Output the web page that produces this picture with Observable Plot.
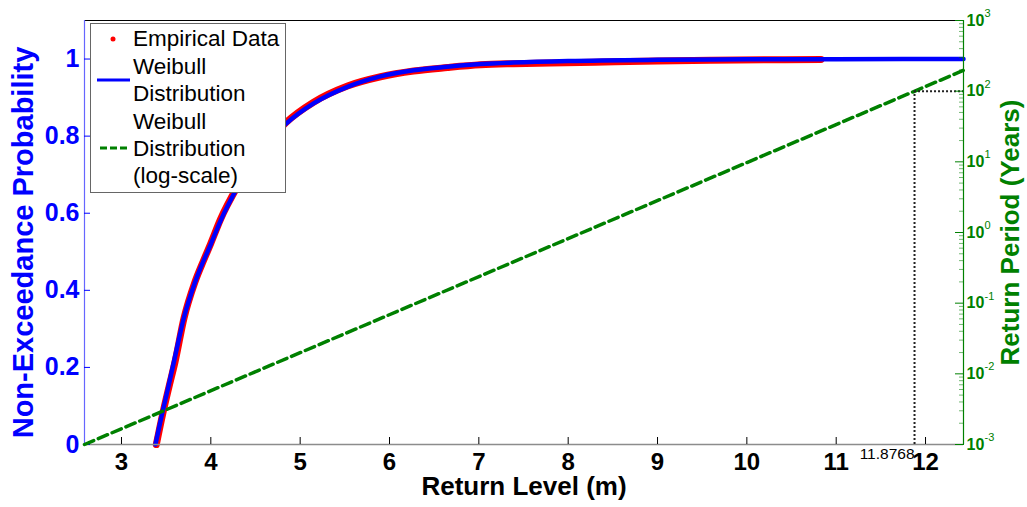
<!DOCTYPE html>
<html><head><meta charset="utf-8">
<script src="https://cdn.jsdelivr.net/npm/d3@7"></script>
<script src="https://cdn.jsdelivr.net/npm/@observablehq/plot@0.6"></script>
<style>
body{margin:0;background:#fff;}
#wrap{position:relative;width:1027px;height:507px;font-family:"Liberation Sans",Arial,sans-serif;}
#wrap > svg{position:absolute;left:0;top:0;}
</style></head><body><div id="wrap"></div>
<script>
// ---- data ----
const xDomain = [2.586, 12.425];
const probDomain = [0, 1.1];
const periodDomain = [1e-3, 1e3];
const levelTicks = [3, 4, 5, 6, 7, 8, 9, 10, 11, 12];
const probTicks = [0, 0.2, 0.4, 0.6, 0.8, 1];
const periodMajor = [1e-3, 1e-2, 1e-1, 1, 10, 100, 1000];
const periodExp = ["-3", "-2", "-1", "0", "1", "2", "3"];
const minorMult = [2, 3, 4, 5, 6, 7, 8, 9];

const weibullX = [3.38, 3.45, 3.52, 3.59, 3.70, 3.83, 4.00, 4.11, 4.30, 4.55, 4.84, 5.15, 5.53, 5.90, 6.27, 6.65, 7.02, 7.39, 8.0, 9.0, 10.0, 11.0, 12.425];
const weibullF = [0, 0.075, 0.145, 0.218, 0.330, 0.425, 0.520, 0.581, 0.668, 0.762, 0.832, 0.885, 0.928, 0.955, 0.971, 0.980, 0.987, 0.991, 0.995, 0.998, 0.9992, 0.9997, 1.0];

const empiricalX = [3.39, 3.46, 3.53, 3.60, 3.70, 3.82, 3.92, 4.00, 4.11, 4.30, 4.84, 5.15, 5.53, 5.90, 6.27, 6.65, 7.02, 7.39, 7.8, 8.3, 9.0, 9.6, 10.2, 10.83];
const empiricalF = [0, 0.078, 0.148, 0.215, 0.328, 0.420, 0.478, 0.522, 0.585, 0.670, 0.835, 0.888, 0.930, 0.954, 0.969, 0.978, 0.985, 0.988, 0.990, 0.992, 0.995, 0.997, 0.998, 0.999];

const logLineX = [2.586, 12.425];
const logLineT = [0.001, 197];

const returnLevel100 = 11.8768;
const returnPeriod100 = 100;
const returnLevelLabel = "11.8768";

const xTitle = "Return Level (m)";
const yTitle = "Non-Exceedance Probability";
const y2Title = "Return Period (Years)";
const legendEntries = [
  {kind: "dot", lines: ["Empirical Data"]},
  {kind: "line", lines: ["Weibull", "Distribution"]},
  {kind: "dash", lines: ["Weibull", "Distribution", "(log-scale)"]}
];

// ---- tables ----
const weibull = weibullX.map((x, i) => ({x, f: weibullF[i]}));
const empirical = empiricalX.map((x, i) => ({x, f: empiricalF[i]}));
const logLine = logLineX.map((x, i) => ({x, t: logLineT[i]}));
const minorTicks = periodMajor.slice(0, -1).flatMap(p => minorMult.map(m => m * p));

const W = 1027, H = 507;
const M = {marginLeft: 84, marginRight: 64, marginTop: 20, marginBottom: 63};
const font = '"Liberation Sans", Arial, sans-serif';
const BLUE = "#0000ff", RED = "#ff0000", GREEN = "#008000";

const p1 = Plot.plot({
  width: W, height: H, ...M,
  style: {fontFamily: font, background: "transparent", overflow: "visible"},
  x: {domain: xDomain, label: null},
  y: {domain: probDomain, label: null},
  marks: [
    Plot.line(empirical, {x: "x", y: "f", stroke: RED, strokeWidth: 7, curve: "monotone-x"}),
    Plot.line(weibull, {x: "x", y: "f", stroke: BLUE, strokeWidth: 4.5, curve: "monotone-x"}),
    Plot.ruleY([0], {stroke: "#8c8c8c", strokeWidth: 1.5}),
    Plot.ruleY([probDomain[1]], {stroke: "#000"}),
    Plot.ruleX([xDomain[0]], {stroke: "#6666ff", strokeWidth: 1.2}),
    Plot.axisX(levelTicks, {tickSize: -7, tickPadding: 15, fontSize: 24, fontWeight: "bold", stroke: "#000", fill: "#000", label: null}),
    Plot.axisY(probTicks, {tickSize: -6, tickPadding: 11, fontSize: 25, fontWeight: "bold", stroke: BLUE, fill: BLUE, label: null, tickFormat: d => String(d)}),
    Plot.text([xTitle], {frameAnchor: "bottom", dy: 50, fontSize: 26, fontWeight: "bold", fill: "#000"}),
    Plot.text([yTitle], {frameAnchor: "left", textAnchor: "middle", dx: -61, dy: 10, rotate: -90, fontSize: 29, fontWeight: "bold", fill: BLUE})
  ]
});

const p2 = Plot.plot({
  width: W, height: H, ...M,
  style: {fontFamily: font, background: "transparent", overflow: "visible"},
  x: {domain: xDomain, axis: null, label: null},
  y: {type: "log", domain: periodDomain, label: null},
  marks: [
    Plot.line(logLine, {x: "x", y: "t", stroke: GREEN, strokeWidth: 3.5, strokeDasharray: "10,5"}),
    Plot.ruleX([returnLevel100], {y1: periodDomain[0], y2: returnPeriod100, stroke: "#222", strokeWidth: 2, strokeDasharray: "2,2"}),
    Plot.ruleY([returnPeriod100], {x1: returnLevel100, x2: xDomain[1], stroke: "#222", strokeWidth: 2, strokeDasharray: "2,2"}),
    Plot.ruleX([xDomain[1]], {stroke: GREEN, strokeWidth: 1.2}),
    Plot.axisY(minorTicks, {anchor: "right", tickSize: -5, stroke: GREEN, strokeOpacity: 0.55, tickFormat: () => "", label: null}),
    Plot.axisY(periodMajor, {anchor: "right", tickSize: -9, tickPadding: 12, fontSize: 16, fontWeight: "bold", stroke: GREEN, fill: GREEN, tickFormat: () => "10", label: null}),
    Plot.text(periodMajor, {x: xDomain[1], y: d => d, text: (d, i) => periodExp[i], dx: 21, dy: -7, textAnchor: "start", fontSize: 11, fill: GREEN}),
    Plot.text([returnLevelLabel], {x: returnLevel100, y: periodDomain[0], textAnchor: "end", lineAnchor: "top", dy: 3, fontSize: 15.5, fill: "#000"}),
    Plot.text([y2Title], {frameAnchor: "right", textAnchor: "middle", dx: 47, rotate: -90, fontSize: 26, fontWeight: "bold", fill: GREEN})
  ]
});

const wrap = document.getElementById("wrap");
wrap.appendChild(p1);
wrap.appendChild(p2);

// ---- legend ----
const leg = d3.select(wrap).append("svg").attr("width", W).attr("height", H)
  .style("font-family", font).style("pointer-events", "none");
leg.append("rect").attr("x", 90.5).attr("y", 23.5).attr("width", 195).attr("height", 169)
  .attr("fill", "#fff").attr("stroke", "#666");
const baselines = [[46], [74, 101], [129, 156, 183]];
legendEntries.forEach((e, i) => {
  e.lines.forEach((s, j) => {
    leg.append("text").attr("x", 133).attr("y", baselines[i][j]).attr("font-size", 22.5).attr("fill", "#000").text(s);
  });
});
leg.append("circle").attr("cx", 113).attr("cy", 39).attr("r", 2.5).attr("fill", RED);
leg.append("line").attr("x1", 97).attr("x2", 130).attr("y1", 80).attr("y2", 80).attr("stroke", BLUE).attr("stroke-width", 3);
leg.append("line").attr("x1", 100).attr("x2", 130).attr("y1", 148).attr("y2", 148).attr("stroke", GREEN).attr("stroke-width", 3).attr("stroke-dasharray", "7,3");
</script></body></html>
